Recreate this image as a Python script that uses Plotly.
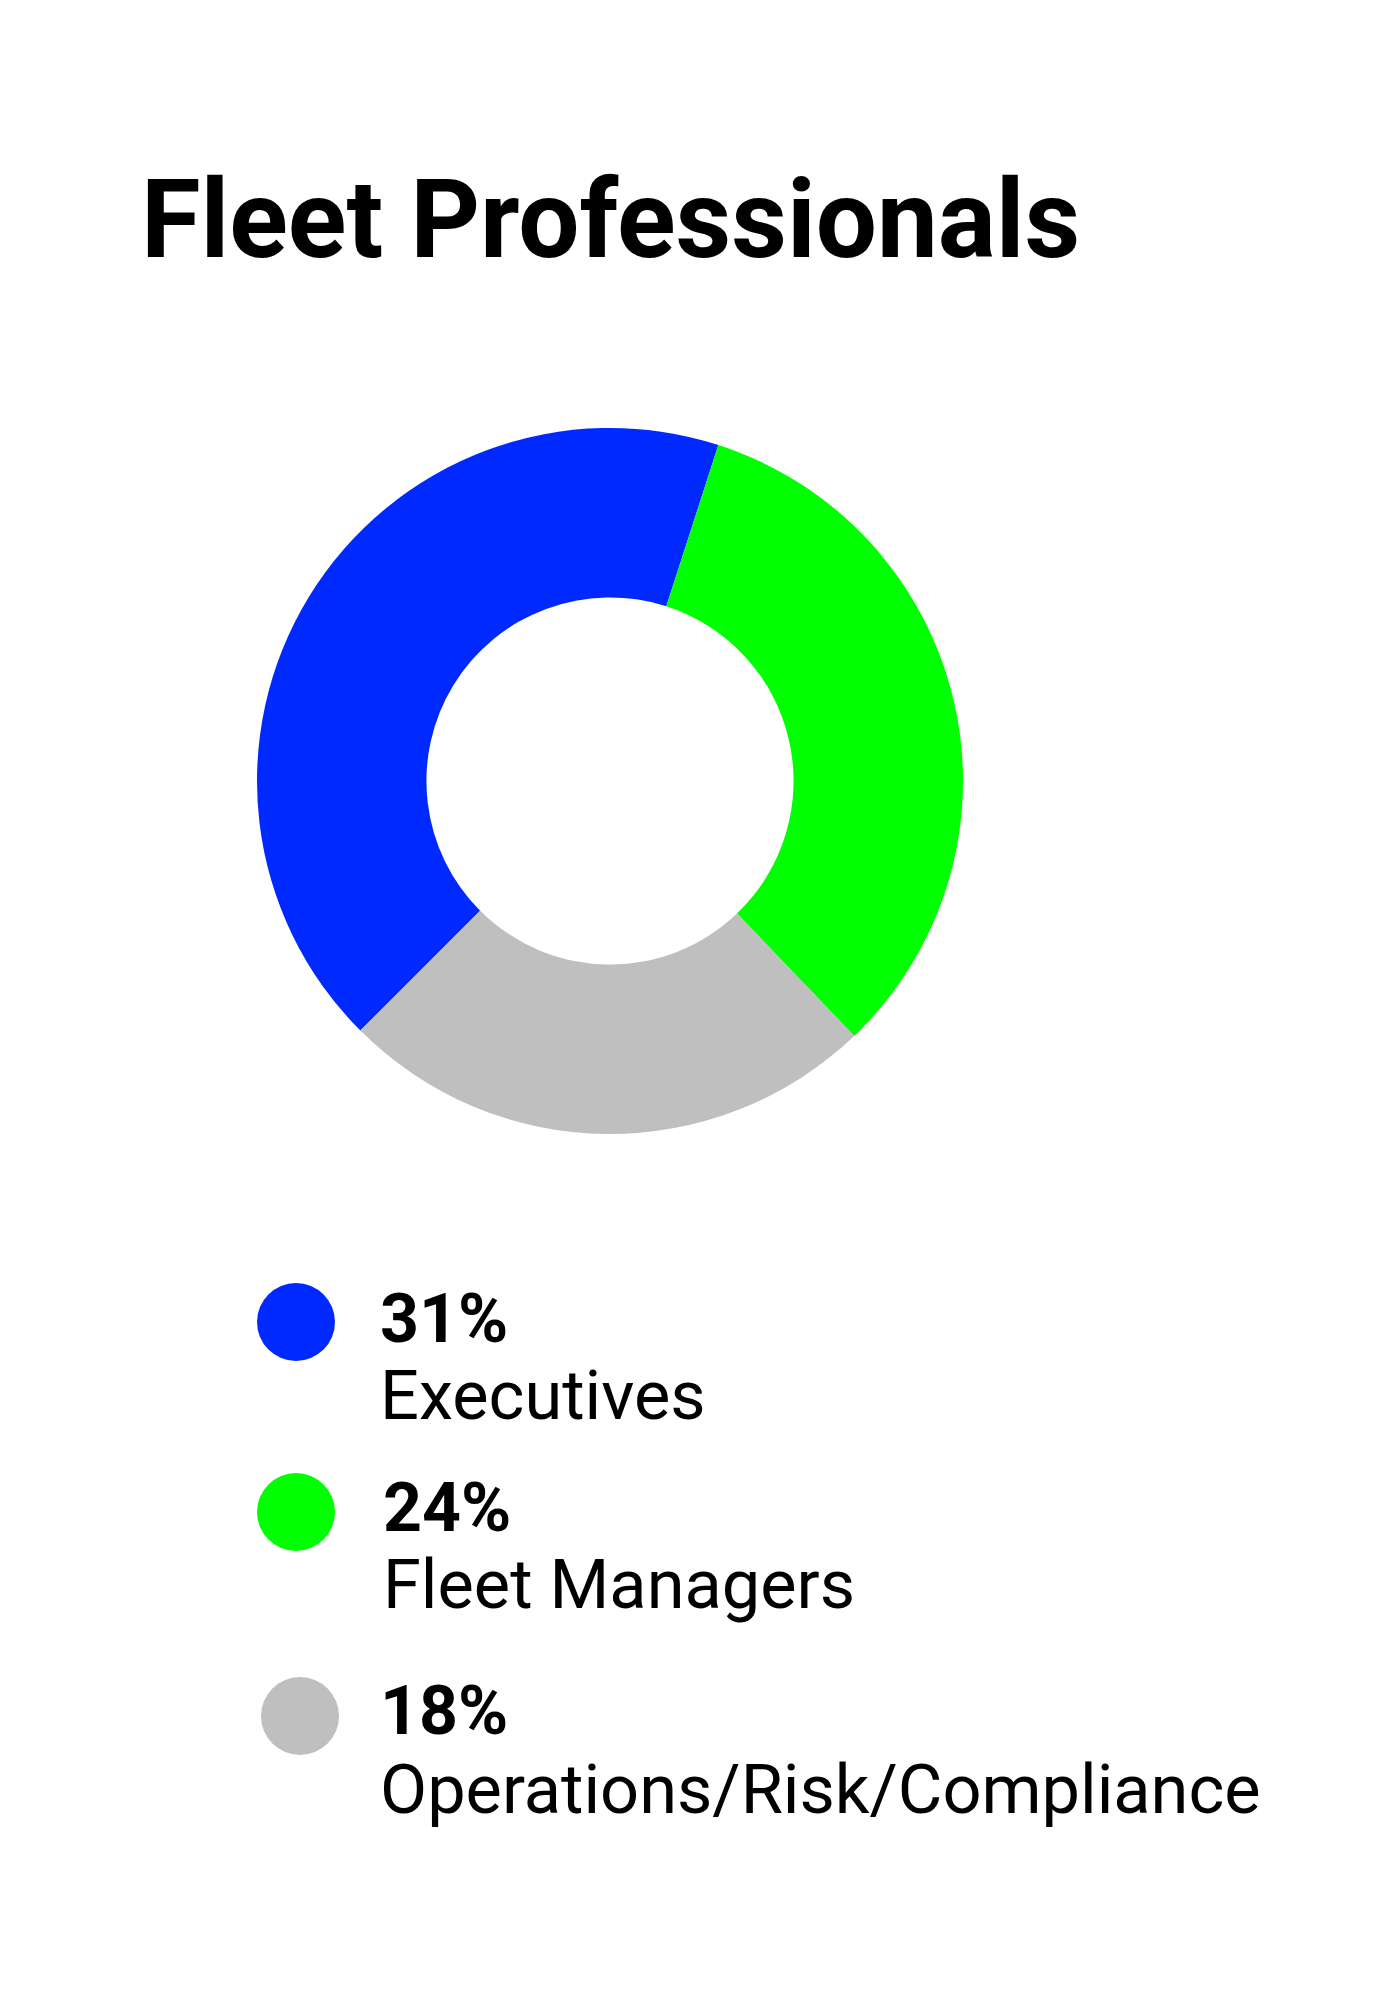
import plotly.graph_objects as go

# data
categories = ["Executives", "Fleet Managers", "Operations/Risk/Compliance"]
values = [31, 24, 18]
pct_labels = ["31%", "24%", "18%"]
colors = ["#0029FF", "#00FF00", "#BFBFBF"]
title_text = "Fleet Professionals"

W, H = 1397, 1999

# layout helpers (pixels -> paper)
def px_x(x):
    return x / W

def px_y(y):
    return 1 - y / H

# donut position
cx, cy, r = 610, 781, 353

fig = go.Figure()

fig.add_trace(go.Pie(
    labels=categories,
    values=values,
    marker=dict(colors=colors, line=dict(width=0)),
    hole=0.52,
    sort=False,
    direction="clockwise",
    rotation=-135,
    textinfo="none",
    hoverinfo="label+value",
    showlegend=False,
    domain=dict(x=[px_x(cx - r), px_x(cx + r)], y=[px_y(cy + r), px_y(cy - r)]),
))

# custom legend: circles on a hidden pixel axis
legend_x = [296, 296, 300]
legend_y = [1322, 1512, 1716]
fig.add_trace(go.Scatter(
    x=legend_x,
    y=legend_y,
    mode="markers",
    marker=dict(size=78, color=colors, line=dict(width=0)),
    hoverinfo="skip",
    showlegend=False,
))

text_x = [378, 381, 378]
pct_y = [1319, 1508, 1711]
lab_y = [1395, 1584, 1789]
annotations = [
    dict(text="<b>" + title_text + "</b>", x=px_x(139), y=px_y(220), xref="paper", yref="paper",
         xanchor="left", yanchor="middle", showarrow=False,
         font=dict(family="Roboto", size=108.5, color="#000000")),
]
for i in range(len(categories)):
    annotations.append(dict(text="<b>" + pct_labels[i] + "</b>", x=px_x(text_x[i]), y=px_y(pct_y[i]),
                            xref="paper", yref="paper", xanchor="left", yanchor="middle",
                            showarrow=False, font=dict(family="Roboto", size=68, color="#000000")))
    annotations.append(dict(text=categories[i], x=px_x(text_x[i]), y=px_y(lab_y[i]),
                            xref="paper", yref="paper", xanchor="left", yanchor="middle",
                            showarrow=False, font=dict(family="Roboto", size=68.5, color="#000000")))

fig.update_layout(
    width=W,
    height=H,
    margin=dict(l=0, r=0, t=0, b=0),
    paper_bgcolor="white",
    plot_bgcolor="white",
    font=dict(family="Roboto"),
    annotations=annotations,
    xaxis=dict(range=[0, W], domain=[0, 1], visible=False, fixedrange=True),
    yaxis=dict(range=[H, 0], domain=[0, 1], visible=False, fixedrange=True),
    showlegend=False,
)

fig.write_html("out.html", config={"displayModeBar": False},
               post_script="document.body.style.margin='0';")
